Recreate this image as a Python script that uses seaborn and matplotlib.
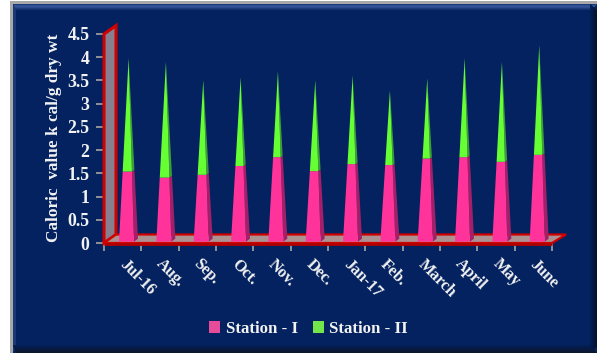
import matplotlib
matplotlib.use("Agg")
import matplotlib.pyplot as plt
from matplotlib.transforms import ScaledTranslation
import numpy as np
import pandas as pd
import seaborn as sns

months = ["Jul-16", "Aug.", "Sep.", "Oct.", "Nov.", "Dec.", "Jan-17", "Feb.", "March", "April", "May", "June"]
station_1 = [1.51, 1.38, 1.44, 1.63, 1.82, 1.52, 1.67, 1.65, 1.79, 1.82, 1.72, 1.87]
station_2 = [2.29, 2.34, 1.89, 1.76, 1.70, 1.81, 1.76, 1.46, 1.58, 1.98, 2.00, 2.21]
y_ticks = [0, 0.5, 1, 1.5, 2, 2.5, 3, 3.5, 4, 4.5]
y_tick_labels = ["0", "0.5", "1", "1.5", "2", "2.5", "3", "3.5", "4", "4.5"]

NAVY = "#03225f"
PINK, PINK_SIDE = "#ff3399", "#a32068"
GREEN, GREEN_SIDE = "#66ff33", "#3f9c3a"
RED, DARK_RED = "#d00000", "#b00000"
WALL, FLOOR = "#857f8f", "#ad9090"
INK = "#f2f2f2"
SERIF = "Liberation Serif"

W, H = 597, 353
sns.set_theme(style="white")
plt.rcParams["font.family"] = [SERIF, "DejaVu Serif"]
fig = plt.figure(figsize=(W / 100, H / 100), dpi=100, facecolor="white")

# Panel with a bevelled frame, in pixel coordinates
bg = fig.add_axes([0, 0, 1, 1], zorder=0)
bg.set_xlim(0, W)
bg.set_ylim(H, 0)
bg.axis("off")
bg.fill([10, W, W, 10], [1, 1, H, H], color="#a8a8a8", lw=0)
bg.fill([13, W, W, 13], [4, 4, H, H], color=NAVY, lw=0)
top_band = ["#1c3a7c", "#2c4c90", "#34559a", "#2a4a8e", "#1d3b7c", "#10306e"]
for k, c in enumerate(top_band):
    bg.fill([13 + k * 0.6, W - k, W - k, 13 + k * 0.6], [4 + k, 4 + k, 5 + k, 5 + k], color=c, lw=0)
bg.fill([13, 16, 16, 13], [4, 10, H - 8, H], color="#1a3878", lw=0)
right_band = ["#031f58", "#031c50", "#031a49", "#041842", "#04163c", "#041436", "#051330"]
for k, c in enumerate(right_band):
    x0 = W - 7 + k
    bg.fill([x0, x0 + 1, x0 + 1, x0], [4 + k, 4 + k, H - k, H - k], color=c, lw=0)
bottom_band = ["#031f58", "#041d51", "#051b4a", "#061a44", "#07193e", "#081838", "#091733", "#0a162e"]
for k, c in enumerate(bottom_band):
    y0 = H - 8 + k
    bg.fill([13 + k * 0.4, W - 7 + k, W - 7 + k, 13 + k * 0.4], [y0, y0, y0 + 1, y0 + 1], color=c, lw=0)

# Plot area: 448 px for twelve categories, 209 px for 4.5 units
ax_left, ax_right, ax_top, ax_bottom = 104, 552, 34, 243
ax = fig.add_axes(
    [ax_left / W, 1 - ax_bottom / H, (ax_right - ax_left) / W, (ax_bottom - ax_top) / H],
    zorder=1,
)
ax.patch.set_alpha(0)

long = pd.DataFrame(
    {
        "month": months * 2,
        "value": station_1 + station_2,
        "station": ["Station - I"] * 12 + ["Station - II"] * 12,
    }
)
# Zero-width bars set up the categorical scale and the legend; the pyramids are added below
sns.barplot(
    data=long, x="month", y="value", hue="station", order=months, dodge=False, width=0,
    palette={"Station - I": PINK, "Station - II": GREEN}, ax=ax, errorbar=None, linewidth=0,
)
ax.set_xlim(-0.5, 11.5)
ax.set_ylim(0, 4.5)
ax.set_xlabel("")
ax.set_ylabel("")

px_x = 12 / (ax_right - ax_left)
px_y = 4.5 / (ax_bottom - ax_top)

# Side wall and floor of the 3-D box
depth_x, depth_y = 12 * px_x, 8.5 * px_y
left, right = -0.5, 11.5
ax.fill([left, left + depth_x, left + depth_x, left], [0, depth_y, 4.5 + depth_y, 4.5],
        facecolor=WALL, edgecolor=RED, lw=2.2, clip_on=False, zorder=2, joinstyle="miter")
ax.fill([left, right, right + depth_x + 2 * px_x, left + depth_x], [0, 0, depth_y, depth_y],
        facecolor=FLOOR, edgecolor=RED, lw=1.6, clip_on=False, zorder=2.5, joinstyle="miter")
ax.plot([left, right], [-1.4 * px_y, -1.4 * px_y], color=DARK_RED, lw=2.0, clip_on=False,
        zorder=2.6, solid_capstyle="butt")

APEX_RISE = 7 * px_y


def pyramid_faces(i, low, high, total):
    """Front and side faces of one stacked section of a pyramid."""
    x0 = i - 0.5 + 15 * px_x
    base_y = 1.3 * px_y
    front_l = np.array([x0, base_y])
    front_r = np.array([x0 + 15 * px_x, base_y])
    back_r = np.array([x0 + 19 * px_x, base_y + 3 * px_y])
    apex = np.array([x0 + 9.6 * px_x, base_y + total + APEX_RISE])
    span = apex[1] - base_y
    t0, t1 = low / span, high / span
    at = lambda p, t: p + t * (apex - p)
    front = [at(front_l, t0), at(front_r, t0), at(front_r, t1), at(front_l, t1)]
    side = [at(front_r, t0), at(back_r, t0), at(back_r, t1), at(front_r, t1)]
    return np.array(front), np.array(side)


for i, (v1, v2) in enumerate(zip(station_1, station_2)):
    total = v1 + v2
    span = total + APEX_RISE
    for low, high, face, shade in ((0, v1, PINK, PINK_SIDE), (v1, span, GREEN, GREEN_SIDE)):
        front, side = pyramid_faces(i, low, high, total)
        ax.fill(side[:, 0], side[:, 1], color=shade, lw=0, clip_on=False, zorder=3)
        ax.fill(front[:, 0], front[:, 1], color=face, lw=0, clip_on=False, zorder=3.1)

# Axes, ticks and text
sns.despine(ax=ax, left=True, bottom=True)
ax.set_yticks(y_ticks, y_tick_labels)
ax.set_xticks(np.arange(12), months)
ax.set_xticks(np.arange(-0.5, 12), minor=True)
ax.tick_params(axis="y", length=6, width=1.3, color="#9a9a9a", pad=4.5, labelsize=12.8, labelcolor=INK, left=True)
ax.tick_params(axis="x", which="major", length=0, bottom=False, pad=13.5, labelsize=11.7, labelcolor=INK)
ax.tick_params(axis="x", which="minor", length=6, width=1.3, color="#9a9a9a", bottom=True)
for lab in ax.get_yticklabels():
    lab.set_fontweight("bold")
shift = ScaledTranslation(-1 / 100, 0, fig.dpi_scale_trans)
for lab in ax.get_xticklabels():
    lab.set_fontweight("bold")
    lab.set_rotation(-45)
    lab.set_rotation_mode("anchor")
    lab.set_ha("left")
    lab.set_va("center")
    lab.set_transform(lab.get_transform() + shift)
fig.text(54 / W, 1 - 138 / H, "Caloric  value k cal/g dry wt", rotation=90, ha="center", va="center",
         color=INK, fontsize=12.4, fontweight="bold", zorder=3)

handles = ax.get_legend().legend_handles
ax.get_legend().remove()
fig.legend(
    handles, ["Station - I", "Station - II"], loc="center", bbox_to_anchor=(308.5 / W, 1 - 329 / H),
    ncol=2, frameon=False, handlelength=0.68, handleheight=0.68, handletextpad=0.3, columnspacing=0.9,
    labelcolor=INK, prop={"family": SERIF, "weight": "bold", "size": 12.1},
)

fig.savefig("out.png", dpi=100)
